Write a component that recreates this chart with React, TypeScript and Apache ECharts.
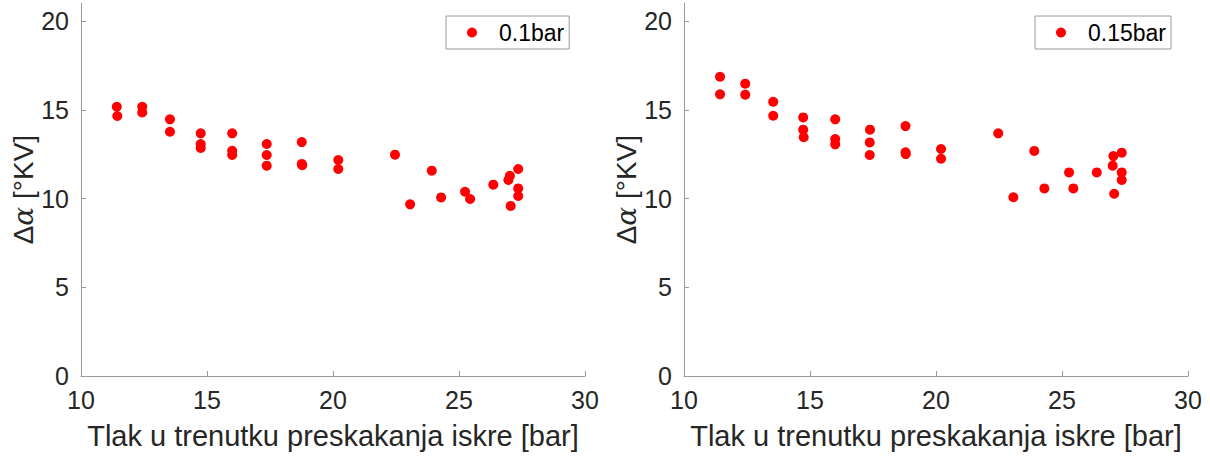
import React, { useEffect, useRef } from "react";
import * as echarts from "echarts";

const xTicks = [10, 15, 20, 25, 30];
const yTicks = [0, 5, 10, 15, 20];

const legendLeft = "0.1bar";
const legendRight = "0.15bar";

const xLeft = [11.42, 11.44, 12.43, 12.43, 13.53, 13.53, 14.75, 14.75, 14.75, 16.0, 16.0, 16.0, 17.37, 17.37, 17.37, 18.76, 18.76, 18.78, 20.21, 20.21, 22.46, 23.06, 23.92, 24.29, 25.24, 25.44, 26.36, 26.96, 27.02, 27.05, 27.35, 27.35, 27.35];
const yLeft = [15.17, 14.65, 15.17, 14.85, 14.46, 13.76, 13.67, 13.07, 12.85, 13.67, 12.69, 12.45, 13.07, 12.45, 11.85, 13.18, 11.95, 11.88, 12.17, 11.66, 12.47, 9.67, 11.57, 10.06, 10.38, 9.97, 10.78, 11.04, 11.28, 9.58, 11.66, 10.57, 10.14];

const xRight = [11.43, 11.43, 12.43, 12.43, 13.54, 13.54, 14.73, 14.73, 14.75, 16.0, 16.0, 16.0, 17.38, 17.37, 17.37, 18.79, 18.79, 18.8, 20.2, 20.2, 22.47, 23.07, 23.9, 24.3, 25.28, 25.45, 26.38, 27.01, 27.04, 27.07, 27.37, 27.37, 27.37];
const yRight = [16.86, 15.87, 16.47, 15.85, 15.45, 14.66, 14.57, 13.88, 13.45, 14.46, 13.35, 13.05, 13.88, 13.16, 12.45, 14.08, 12.6, 12.5, 12.79, 12.24, 13.67, 10.07, 12.68, 10.57, 11.47, 10.57, 11.47, 11.85, 12.39, 10.27, 12.58, 11.47, 11.04];

const xName = "Tlak u trenutku preskakanja iskre [bar]";

const FONT = "'Liberation Sans', Arial, Helvetica, sans-serif";
const AXIS_COLOR = "#9a9a9a";
const TEXT_COLOR = "#262626";

function pairs(xs: number[], ys: number[]) {
  return xs.map((x, i) => [x, ys[i]]);
}

function xAxis(gridIndex: number) {
  return {
    type: "value",
    gridIndex,
    min: 10,
    max: 30,
    interval: 5,
    name: xName,
    nameLocation: "middle",
    nameGap: 45,
    nameTextStyle: { fontFamily: FONT, fontSize: 29, color: TEXT_COLOR },
    axisLine: { show: true, lineStyle: { color: AXIS_COLOR, width: 1 } },
    axisTick: { show: true, inside: true, length: 5, lineStyle: { color: AXIS_COLOR }, customValues: xTicks },
    axisLabel: { fontFamily: FONT, fontSize: 25, color: TEXT_COLOR, margin: 11, customValues: xTicks },
    splitLine: { show: false },
  };
}

function yAxis(gridIndex: number) {
  return {
    type: "value",
    gridIndex,
    min: 0,
    max: 21,
    name: "Δ{i|α} [°KV]",
    nameLocation: "middle",
    nameRotate: 90,
    nameGap: 33,
    nameTextStyle: {
      fontFamily: FONT,
      fontSize: 28,
      color: TEXT_COLOR,
      rich: { i: { fontFamily: "'DejaVu Serif', serif", fontStyle: "italic", fontSize: 28, color: TEXT_COLOR } },
    },
    axisLine: { show: true, onZero: false, lineStyle: { color: AXIS_COLOR, width: 1 } },
    axisTick: { show: true, inside: true, length: 5, lineStyle: { color: AXIS_COLOR }, customValues: yTicks },
    axisLabel: { fontFamily: FONT, fontSize: 25, color: TEXT_COLOR, margin: 12, customValues: yTicks },
    splitLine: { show: false },
  };
}

function legend(name: string, left: number) {
  return {
    data: [name],
    left,
    top: 16,
    orient: "horizontal",
    icon: "circle",
    itemWidth: 44,
    itemHeight: 10,
    padding: [5, 5, 5, 21],
    borderColor: "#9a9a9a",
    borderWidth: 1,
    backgroundColor: "#ffffff",
    textStyle: { fontFamily: FONT, fontSize: 23, color: "#000000", lineHeight: 23 },
  };
}

export default function App() {
  const ref = useRef<HTMLDivElement>(null);
  useEffect(() => {
    if (!ref.current) return;
    const chart = echarts.init(ref.current, undefined, { renderer: "svg" });
    chart.setOption({
      animation: false,
      backgroundColor: "#ffffff",
      grid: [
        { left: 81, top: 3.25, width: 504, height: 372.75, containLabel: false },
        { left: 684, top: 3.25, width: 504, height: 372.75, containLabel: false },
      ],
      xAxis: [xAxis(0), xAxis(1)],
      yAxis: [yAxis(0), yAxis(1)],
      legend: [legend(legendLeft, 446), legend(legendRight, 1035)],
      series: [
        {
          name: legendLeft,
          type: "scatter",
          xAxisIndex: 0,
          yAxisIndex: 0,
          symbol: "circle",
          symbolSize: 10,
          itemStyle: { color: "#ff0000", opacity: 1 },
          data: pairs(xLeft, yLeft),
        },
        {
          name: legendRight,
          type: "scatter",
          xAxisIndex: 1,
          yAxisIndex: 1,
          symbol: "circle",
          symbolSize: 10,
          itemStyle: { color: "#ff0000", opacity: 1 },
          data: pairs(xRight, yRight),
        },
      ],
    });
    return () => chart.dispose();
  }, []);
  return (
    <div
      ref={ref}
      style={{ position: "absolute", left: 0, top: 0, width: 1210, height: 457, background: "#ffffff" }}
    />
  );
}
